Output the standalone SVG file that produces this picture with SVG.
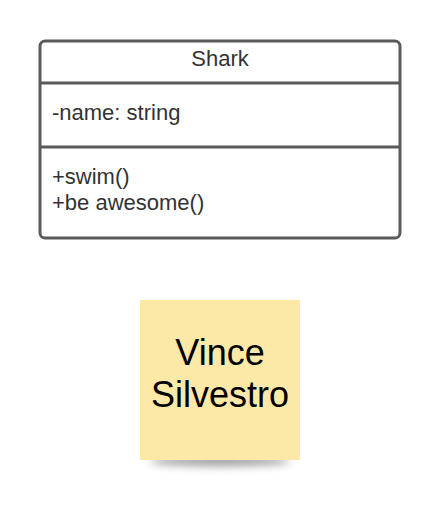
<svg xmlns="http://www.w3.org/2000/svg" width="440" height="520" viewBox="0 0 440 520">
<style>
.lbl{font-family:"Liberation Sans",Arial,sans-serif;font-size:22px;fill:#333}
.box{fill:#fff;stroke:#5a5a5a;stroke-width:3}
.div{stroke:#5a5a5a;stroke-width:3}
.sticky{font-family:"Liberation Sans",Arial,sans-serif;font-size:36px;fill:#000}
</style>
<defs>
<filter id="blur" x="-20%" y="-200%" width="140%" height="500%"><feGaussianBlur stdDeviation="4"/></filter>
</defs>
<rect width="440" height="520" fill="#fff"/>
<g id="shark">
<rect class="box" x="40" y="41" width="360" height="197" rx="5"/>
<line class="div" x1="40" y1="83" x2="400" y2="83"/>
<line class="div" x1="40" y1="147" x2="400" y2="147"/>
<text class="lbl" x="220" y="66" text-anchor="middle">Shark</text>
<text class="lbl" x="52" y="120">-name: string</text>
<text class="lbl" x="52" y="184">+swim()</text>
<text class="lbl" x="52" y="210">+be awesome()</text>
</g>
<g id="note">
<ellipse cx="220" cy="461" rx="70" ry="5" fill="#999" filter="url(#blur)"/>
<rect x="140" y="300" width="160" height="160" fill="#fce9a8"/>
<text class="sticky" x="220" y="365" text-anchor="middle">Vince</text>
<text class="sticky" x="220" y="407" text-anchor="middle">Silvestro</text>
</g>
<g id="connectors"/>
</svg>
